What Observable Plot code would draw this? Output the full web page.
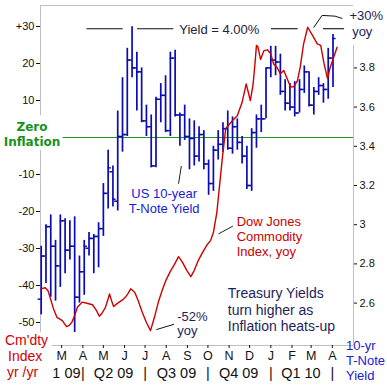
<!DOCTYPE html>
<html><head><meta charset="utf-8">
<script src="https://cdn.jsdelivr.net/npm/d3@7"></script>
<script src="https://cdn.jsdelivr.net/npm/@observablehq/plot@0.6"></script>
<style>
html,body{margin:0;padding:0;background:#fff;}
#chart{width:387px;height:386px;overflow:hidden;}
</style></head><body><div id="chart"></div>
<script>
// ---- Data ----
const weekDates = ["2009-01-30","2009-02-06","2009-02-13","2009-02-20","2009-02-27","2009-03-06","2009-03-13","2009-03-20","2009-03-27","2009-04-03","2009-04-10","2009-04-17","2009-04-24","2009-05-01","2009-05-08","2009-05-15","2009-05-22","2009-05-29","2009-06-05","2009-06-12","2009-06-19","2009-06-26","2009-07-03","2009-07-10","2009-07-17","2009-07-24","2009-07-31","2009-08-07","2009-08-14","2009-08-21","2009-08-28","2009-09-04","2009-09-11","2009-09-18","2009-09-25","2009-10-02","2009-10-09","2009-10-16","2009-10-23","2009-10-30","2009-11-06","2009-11-13","2009-11-20","2009-11-27","2009-12-04","2009-12-11","2009-12-18","2009-12-25","2010-01-01","2010-01-08","2010-01-15","2010-01-22","2010-01-29","2010-02-05","2010-02-12","2010-02-19","2010-02-26","2010-03-05","2010-03-12","2010-03-19","2010-03-26","2010-04-02"];
const yieldOpen  = [2.62,2.84,2.99,2.89,2.79,3.02,2.87,2.89,2.63,2.76,2.88,2.93,2.94,2.98,3.16,3.27,3.12,3.45,3.46,3.84,3.80,3.78,3.53,3.50,3.30,3.64,3.66,3.48,3.85,3.56,3.56,3.45,3.44,3.35,3.46,3.31,3.21,3.38,3.41,3.49,3.39,3.50,3.42,3.35,3.20,3.47,3.54,3.54,3.80,3.84,3.83,3.68,3.62,3.60,3.57,3.69,3.78,3.61,3.68,3.71,3.69,3.85];
const yieldHigh  = [2.89,3.00,3.05,2.92,3.05,3.03,3.02,3.04,2.84,2.92,2.96,2.95,3.01,3.21,3.38,3.30,3.58,3.75,3.90,4.01,3.88,3.80,3.61,3.56,3.65,3.72,3.76,3.88,3.89,3.57,3.61,3.54,3.53,3.50,3.48,3.33,3.40,3.48,3.52,3.58,3.55,3.54,3.45,3.40,3.49,3.56,3.61,3.80,3.91,3.91,3.87,3.74,3.72,3.73,3.74,3.81,3.78,3.70,3.75,3.72,3.90,3.97];
const yieldLow   = [2.54,2.70,2.63,2.61,2.68,2.75,2.82,2.45,2.60,2.64,2.84,2.75,2.78,2.94,3.08,3.09,3.07,3.37,3.45,3.75,3.58,3.52,3.45,3.29,3.29,3.52,3.47,3.45,3.55,3.40,3.43,3.28,3.30,3.32,3.28,3.15,3.17,3.33,3.37,3.38,3.36,3.38,3.31,3.18,3.17,3.39,3.47,3.54,3.75,3.76,3.66,3.58,3.58,3.55,3.57,3.67,3.60,3.56,3.66,3.62,3.64,3.70];
const yieldClose = [2.84,2.99,2.89,2.79,3.02,2.87,2.89,2.63,2.76,2.89,2.93,2.94,2.98,3.16,3.29,3.13,3.45,3.46,3.84,3.80,3.78,3.53,3.50,3.30,3.64,3.66,3.48,3.85,3.56,3.56,3.45,3.44,3.35,3.46,3.31,3.21,3.38,3.41,3.49,3.39,3.50,3.42,3.35,3.20,3.47,3.54,3.54,3.80,3.84,3.83,3.68,3.62,3.60,3.57,3.69,3.78,3.61,3.68,3.71,3.69,3.85,3.95];

const cmdtyDates = ["2009-01-29","2009-02-05","2009-02-09","2009-02-17","2009-02-22","2009-03-02","2009-03-08","2009-03-12","2009-03-16","2009-03-20","2009-03-24","2009-03-31","2009-04-07","2009-04-15","2009-04-21","2009-04-25","2009-04-29","2009-05-04","2009-05-08","2009-05-10","2009-05-13","2009-05-16","2009-05-21","2009-05-29","2009-06-02","2009-06-06","2009-06-10","2009-06-16","2009-06-21","2009-06-27","2009-07-03","2009-07-09","2009-07-15","2009-07-21","2009-07-27","2009-08-01","2009-08-07","2009-08-13","2009-08-19","2009-08-25","2009-08-31","2009-09-06","2009-09-11","2009-09-17","2009-09-23","2009-09-29","2009-10-05","2009-10-09","2009-10-14","2009-10-18","2009-10-22","2009-10-27","2009-11-01","2009-11-06","2009-11-13","2009-11-20","2009-11-26","2009-12-02","2009-12-06","2009-12-09","2009-12-11","2009-12-13","2009-12-17","2009-12-22","2009-12-27","2010-01-01","2010-01-05","2010-01-10","2010-01-15","2010-01-20","2010-01-25","2010-01-30","2010-02-04","2010-02-09","2010-02-13","2010-02-18","2010-02-24","2010-03-03","2010-03-10","2010-03-15","2010-03-20","2010-03-25","2010-03-29","2010-04-03","2010-04-08"];
const cmdtyYoY = [-40.9,-40.6,-41.4,-46.3,-48.6,-49.5,-51.1,-50.8,-49.9,-48.1,-45.9,-44.5,-44.8,-45.2,-46.8,-48.3,-47.5,-45.9,-43.6,-42.3,-44.1,-45.7,-44.9,-43.9,-43.2,-42.2,-40.9,-41.9,-44.1,-47.3,-50.0,-52.2,-48.4,-44.1,-40.8,-38.4,-36.2,-34.3,-32.2,-33.8,-35.9,-37.6,-35.9,-33.2,-31.1,-29.2,-27.8,-25.7,-20.3,-13.0,-5.7,2.4,3.5,4.6,5.9,9.5,14.5,10.0,14.2,20.3,24.9,24.6,21.1,23.5,23.7,22.6,19.9,19.0,17.2,18.1,15.9,13.6,13.8,15.4,19.0,25.3,29.8,27.6,25.3,24.9,19.9,15.9,19.0,21.7,24.4];

const monthTicks = ["2009-03-01","2009-04-01","2009-05-01","2009-06-01","2009-07-01","2009-08-01","2009-09-01","2009-10-01","2009-11-01","2009-12-01","2010-01-01","2010-02-01","2010-03-01","2010-04-01"];
const monthLabels = ["M","A","M","J","J","A","S","O","N","D","J","F","M","A"];
const quarterDates = ["2009-03-08","2009-05-16","2009-08-16","2009-11-15","2010-02-14"];
const quarterLabels = ["1 09","Q2 09","Q3 09","Q4 09","Q1 10"];
const quarterBreaks = ["2009-04-01","2009-07-01","2009-10-01","2010-01-01","2010-04-01"];
const leftTicks = [30,20,10,-10,-20,-30,-40,-50];
const leftTickLabels = ["+30","20","10","-10","-20","-30","-40","-50"];
const yieldTicks = [3.8,3.6,3.4,3.2,3.0,2.8,2.6];
const yieldTickLabels = ["3.8","3.6","3.4","3.2","3","2.8","2.6"];
const yieldLevel = 4.00;

// ---- helpers ----
const yl = r => (196 * (r - 3.2) - 48) / 3.7;     // yield -> left (yoy %) units
const BLUE = "#0b0bb4", RED = "#d00000", NAVY = "#1e1e5a";
const FONT = "'Liberation Sans', Arial, sans-serif";
const dt = s => new Date(s);

const bars = weekDates.map((d, i) => ({date: dt(d), o: yieldOpen[i], h: yieldHigh[i], l: yieldLow[i], c: yieldClose[i]}));
const cmdty = cmdtyDates.map((d, i) => ({date: dt(d), v: cmdtyYoY[i]}));

const xStart = dt("2009-01-29"), xEnd = dt("2010-05-02");
const yTop = 35.68, yBot = -56.22;
const GRAY = "#c0c0c0";

const levelSegs = [["2009-04-07","2009-05-30"],["2009-06-20","2009-08-12"],["2010-01-02","2010-02-10"],["2010-03-19","2010-04-19"]]
  .map(([a,b]) => ({x1: dt(a), x2: dt(b)}));

const plot = Plot.plot({
  width: 387, height: 386,
  marginLeft: 40, marginRight: 34, marginTop: 5, marginBottom: 41,
  x: {type: "utc", domain: [xStart, xEnd]},
  y: {domain: [yBot, yTop]},
  style: {fontFamily: FONT, background: "white", overflow: "visible"},
  marks: [
    // frame pieces
    Plot.ruleY([yTop], {x1: xStart, x2: xEnd, stroke: GRAY}),
    Plot.ruleX([xStart], {y1: yTop, y2: 5.9, stroke: GRAY}),
    Plot.ruleX([xStart], {y1: -3.5, y2: -52.7, stroke: GRAY}),
    Plot.ruleX([xEnd], {y1: 24.9, y2: yBot, stroke: GRAY}),
    Plot.ruleY([yBot], {x1: dt("2009-02-15"), x2: xEnd, stroke: GRAY}),
    // zero inflation line
    Plot.ruleY([0], {x1: dt("2009-03-03"), x2: xEnd, stroke: "#229922", strokeWidth: 1}),
    // 4.00% / +30% level segments
    Plot.ruleY(levelSegs, {y: yl(yieldLevel), x1: "x1", x2: "x2", stroke: "#111", strokeWidth: 1.1}),
    // OHLC bars
    Plot.ruleX(bars, {x: "date", y1: d => yl(d.l), y2: d => yl(d.h), stroke: BLUE, strokeWidth: 1.7}),
    Plot.ruleY(bars, {y: d => yl(d.o), x1: d => d3.utcHour.offset(d.date, -108), x2: "date", stroke: BLUE, strokeWidth: 1.5}),
    Plot.ruleY(bars, {y: d => yl(d.c), x1: "date", x2: d => d3.utcHour.offset(d.date, 108), stroke: BLUE, strokeWidth: 1.5}),
    // commodity yoy line
    Plot.line(cmdty, {x: "date", y: "v", stroke: RED, strokeWidth: 1.4}),
    // pointers
    Plot.line([{x: dt("2010-03-05"), y: 29.8},{x: dt("2010-03-17"), y: 33.0},{x: dt("2010-04-05"), y: 32.8},{x: dt("2010-04-15"), y: 32.2}], {x: "x", y: "y", stroke: "#111", strokeWidth: 1}),
    Plot.line([{x: dt("2009-07-18"), y: -51.9},{x: dt("2009-08-12"), y: -50.5}], {x: "x", y: "y", stroke: "#111", strokeWidth: 1}),
    Plot.line([{x: dt("2009-08-19"), y: -12.4},{x: dt("2009-08-23"), y: -7.8}], {x: "x", y: "y", stroke: "#222", strokeWidth: 1}),
    Plot.line([{x: dt("2009-11-06"), y: -24.0},{x: dt("2009-10-17"), y: -26.0}], {x: "x", y: "y", stroke: "#222", strokeWidth: 1}),
    // axes
    Plot.axisY({ticks: leftTicks, anchor: "left", tickSize: 4, tickPadding: 2, label: null, fontSize: 11, color: "#111",
      tickFormat: d => leftTickLabels[leftTicks.indexOf(d)]}),
    Plot.axisY({ticks: yieldTicks.map(yl), anchor: "right", tickSize: 3, tickPadding: 3, label: null, fontSize: 11, color: "#111",
      tickFormat: v => yieldTickLabels[yieldTicks.findIndex(r => Math.abs(yl(r) - v) < 1e-6)]}),
    Plot.axisX({ticks: monthTicks.map(dt), anchor: "bottom", tickSize: 3, tickPadding: 3, label: null, fontSize: 12.5, color: "#111",
      tickFormat: d => monthLabels[monthTicks.findIndex(s => dt(s).getTime() === d.getTime())]}),
    // quarter labels
    Plot.text(quarterLabels, {x: (d, i) => dt(quarterDates[i]), text: d => d, frameAnchor: "bottom", lineAnchor: "top", dy: 22, fontSize: 14.5, fill: "#111"}),
    Plot.text(quarterBreaks, {x: d => dt(d), text: () => "|", frameAnchor: "bottom", lineAnchor: "top", dy: 22, fontSize: 14.5, fill: "#111"}),
    // annotations
    Plot.text(["Yield = 4.00%"], {x: dt("2009-08-20"), y: 30.6, text: d => d, textAnchor: "start", lineAnchor: "top", fontSize: 13, fill: "#222238"}),
    Plot.text(["+30%"], {x: dt("2010-04-26"), y: 34.3, text: d => d, textAnchor: "start", lineAnchor: "top", fontSize: 13, fill: NAVY}),
    Plot.text(["yoy"], {x: dt("2010-04-30"), y: 30.0, text: d => d, textAnchor: "start", lineAnchor: "top", fontSize: 13, fill: NAVY}),
    Plot.text(["-52%"], {x: dt("2009-08-17"), y: -47.2, text: d => d, textAnchor: "start", lineAnchor: "top", fontSize: 13, fill: NAVY}),
    Plot.text(["yoy"], {x: dt("2009-08-17"), y: -51.0, text: d => d, textAnchor: "start", lineAnchor: "top", fontSize: 13, fill: NAVY}),
    Plot.text(["US 10-year\nT-Note Yield"], {x: dt("2009-07-29"), y: -13.5, text: d => d, textAnchor: "middle", lineAnchor: "top", lineHeight: 1.15, fontSize: 13, fill: "#1a1ad0"}),
    Plot.text(["Dow Jones\nCommodity\nIndex, yoy"], {x: dt("2009-11-12"), y: -21.0, text: d => d, textAnchor: "start", lineAnchor: "top", lineHeight: 1.15, fontSize: 13, fill: "#cc0000"}),
    Plot.text(["Treasury Yields\nturn higher as\nInflation heats-up"], {x: dt("2009-10-30"), y: -40.1, text: d => d, textAnchor: "start", lineAnchor: "top", lineHeight: 1.2, fontSize: 14, fill: NAVY})
  ]
});

document.getElementById("chart").appendChild(plot);

// outside axis titles
const svg = d3.select(plot);
function addLines(x, baselines, lines, opts) {
  lines.forEach((t, i) => {
    svg.append("text").attr("x", Array.isArray(x) ? x[i] : x).attr("y", baselines[i])
      .attr("font-family", opts.family || FONT).attr("font-size", opts.size)
      .attr("font-weight", opts.weight || "normal").attr("fill", opts.fill)
      .attr("text-anchor", opts.anchor || "start").text(t);
  });
}
addLines(32, [131, 146], ["Zero", "Inflation"], {family: "'DejaVu Sans', Verdana, sans-serif", size: 12, weight: "bold", fill: "#15921a", anchor: "middle"});
addLines([5, 8, 7], [345, 361, 377], ["Cm'dty", "Index", "yr /yr"], {size: 14, fill: "#d40000"});
addLines(346, [350, 365, 380], ["10-yr", "T-Note", "Yield"], {size: 13, fill: "#2020d0"});
</script>
</body></html>
